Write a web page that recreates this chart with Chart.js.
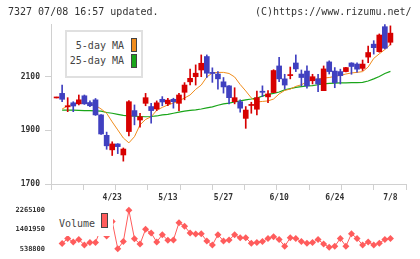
<!DOCTYPE html>
<html>
<head>
<meta charset="utf-8">
<script src="https://cdn.jsdelivr.net/npm/chart.js@4.4.1/dist/chart.umd.min.js"></script>
<style>
  body { margin: 0; background: #fff; }
  #wrap { position: relative; width: 420px; height: 259px; overflow: hidden;
          font-family: "DejaVu Sans Mono", monospace; color: #333; }
  canvas { position: absolute; left: 0; }
  #priceCanvas { top: 0; }
  #volCanvas { top: 200px; }
  .txt { position: absolute; font-size: 10px; line-height: 10px; white-space: pre; }
  .box { position: absolute; box-sizing: border-box; border: 1px solid #444; }
</style>
</head>
<body>
<div id="wrap">
  <canvas id="priceCanvas" width="420" height="205"></canvas>
  <canvas id="volCanvas" width="420" height="59"></canvas>

  <div class="txt" style="left:8px; top:6.5px;">7327 07/08 16:57 updated.</div>
  <div class="txt" style="left:255px; top:6.5px;">(C)https://www.rizumu.net/</div>

  <!-- moving average legend -->
  <div style="position:absolute; left:65px; top:30px; width:78px; height:48px; box-sizing:border-box;
              border:2px solid #e0e0e0; background:#fff;"></div>
  <div class="txt" style="right:296px; top:40.8px; color:#444;">5-day MA</div>
  <div class="txt" style="right:296px; top:55.8px; color:#444;">25-day MA</div>
  <div class="box" style="left:131px; top:38px; width:6px; height:14px; background:#f08c1c;"></div>
  <div class="box" style="left:131px; top:54px; width:6px; height:14px; background:#1aa51a;"></div>

  <!-- volume legend -->
  <div style="position:absolute; left:55px; top:205px; width:58px; height:31px; background:#fff;"></div>
  <div class="txt" style="left:59px; top:218.5px; color:#444;">Volume</div>
  <div class="box" style="left:101px; top:213px; width:7px; height:15px; background:#ff5c5c;"></div>
</div>

<script>
// trading days shown on the chart
var dates = ['4/9','4/10','4/11','4/12','4/15','4/16','4/17','4/18','4/19','4/22',
             '4/23','4/24','4/25','4/26','5/1','5/2','5/7','5/8','5/9','5/10',
             '5/13','5/14','5/15','5/16','5/17','5/20','5/21','5/22','5/23','5/24',
             '5/27','5/28','5/29','5/30','5/31','6/3','6/4','6/5','6/6','6/7',
             '6/10','6/11','6/12','6/13','6/14','6/17','6/18','6/19','6/20','6/21',
             '6/24','6/25','6/26','6/27','6/28','7/1','7/2','7/3','7/4','7/5','7/8'];
var tickDates = ['4/23','5/13','5/27','6/10','6/24','7/8'];
var priceTicks = [1700, 1900, 2100];
var volumeTicks = [538800, 1401950, 2265100];

var opens  = [2020,2037,1987,2002,1998,2028,2003,2013,1957,1881,
              1827,1849,1808,1895,1973,1938,2000,1988,1979,2015,
              1998,2015,2000,2041,2080,2099,2124,2174,2115,2109,
              2080,2065,2006,2006,1944,1992,1978,2045,2024,2040,
              2139,2091,2103,2150,2109,2120,2084,2091,2047,2154,
              2120,2118,2118,2150,2146,2130,2172,2220,2192,2285,2227];
var closes = [2023,2015,1991,1990,2013,1998,1991,1957,1886,1842,
              1849,1839,1830,2006,1953,1950,2021,1973,2002,2005,
              2012,2006,2031,2068,2093,2112,2149,2112,2111,2091,
              2061,2021,2021,1982,1975,1996,2021,2041,2035,2122,
              2091,2068,2107,2128,2096,2065,2099,2072,2128,2118,
              2077,2103,2133,2137,2127,2146,2189,2207,2254,2205,2261];
var highs  = [2023,2068,2021,2006,2031,2031,2009,2018,1958,1893,
              1857,1850,1834,2010,1994,1963,2037,2000,2009,2025,
              2019,2019,2037,2077,2127,2143,2180,2180,2132,2118,
              2096,2066,2058,2013,1988,2004,2046,2065,2047,2125,
              2171,2108,2135,2180,2124,2139,2108,2108,2139,2158,
              2133,2127,2134,2151,2151,2161,2213,2233,2258,2293,2288];
var lows   = [2020,2006,1969,1969,1994,1996,1988,1955,1884,1829,
              1806,1813,1785,1879,1920,1911,1991,1926,1973,1991,
              1991,1982,1973,2013,2068,2068,2099,2096,2078,2053,
              2038,1998,1998,1967,1907,1963,1957,2025,2002,2040,
              2081,2053,2091,2118,2065,2056,2072,2043,2047,2109,
              2058,2072,2117,2108,2116,2122,2151,2183,2190,2202,2217];

var ma5  = [null,1979,1990,1998,2000,2001,1998,1992,1979,1963,
            1931,1901,1871,1853,1876,1920,1940,1950,1974,1985,
            1994,2001,2009,2020,2031,2052,2068,2098,2113,2115,
            2115,2111,2098,2070,2046,2020,2005,2007,2009,2016,
            2035,2048,2053,2063,2069,2080,2087,2091,2094,2096,
            2100,2104,2109,2113,2115,2118,2135,2167,2184,2200,2219];
var ma25 = [null,1975,1975,1975,1974,1973,1973,1972,1971,1966,
            1963,1959,1955,1953,1952,1951,1950,1951,1953,1957,
            1959,1963,1967,1971,1974,1976,1979,1983,1987,1993,
            1998,2001,2005,2009,2013,2016,2020,2027,2033,2037,
            2042,2050,2055,2059,2062,2065,2066,2069,2072,2074,
            2075,2076,2076,2077,2077,2078,2083,2091,2100,2111,2119];

var volumes = [null,780000,1000000,846000,960000,707000,821000,821000,1465000,1107000,
               1760000,538800,863000,2265100,990000,749000,1411000,1242000,846000,1170000,
               918000,931000,1705000,1549000,1242000,1200000,1213000,888000,707000,1170000,
               888000,931000,1170000,1031000,1031000,791000,821000,863000,1002000,1073000,
               960000,652000,1031000,1002000,863000,791000,821000,960000,749000,611000,
               652000,1002000,652000,1213000,1002000,707000,846000,707000,791000,960000,1002000];

var upColor = '#d70000';
var downColor = '#4040c0';
var ma5Color = '#f08c1c';
var ma25Color = '#1aa51a';
var volColor = '#ff5c5c';
var axisColor = '#d0d0d0';
var monoFont = 'DejaVu Sans Mono';

var xMin = -1, xMax = 62.8;

function toPoints(arr) {
    var out = [];
    arr.forEach(function(v, i) { if (v !== null) out.push({x: i, y: v}); });
    return out;
}

var candleColors = opens.map(function(o, i) { return closes[i] >= o ? upColor : downColor; });

new Chart(document.getElementById('priceCanvas'), {
    type: 'bar',
    data: {
        datasets: [{
            label: 'body',
            xAxisID: 'x', yAxisID: 'y',
            data: opens.map(function(o, i) { return {x: i, y: [o, closes[i]]}; }),
            backgroundColor: candleColors,
            barThickness: 5,
            minBarLength: 1,
            grouped: false,
            order: 1
        }, {
            label: 'wick',
            xAxisID: 'x', yAxisID: 'y',
            data: lows.map(function(l, i) { return {x: i, y: [l, highs[i]]}; }),
            backgroundColor: candleColors,
            barThickness: 1,
            grouped: false,
            order: 2
        }, {
            type: 'line',
            label: '5-day MA',
            xAxisID: 'x', yAxisID: 'y',
            data: toPoints(ma5),
            borderColor: ma5Color,
            borderWidth: 1,
            pointRadius: 0,
            order: 3
        }, {
            type: 'line',
            label: '25-day MA',
            xAxisID: 'x', yAxisID: 'y',
            data: toPoints(ma25),
            borderColor: ma25Color,
            borderWidth: 1.2,
            pointRadius: 0,
            order: 4
        }]
    },
    options: {
        responsive: false,
        animation: false,
        devicePixelRatio: 1,
        layout: { padding: { top: 24, right: 14, left: 0, bottom: 0 } },
        plugins: { legend: { display: false }, tooltip: { enabled: false } },
        scales: {
            x: {
                type: 'linear',
                position: 'bottom',
                weight: 1,
                min: xMin,
                max: xMax,
                offset: false,
                afterBuildTicks: function(scale) {
                    scale.ticks = tickDates.map(function(d) { return {value: dates.indexOf(d)}; });
                },
                afterFit: function(scale) { scale.height = 15; },
                grid: { display: false, drawTicks: false, offset: false },
                border: { display: false },
                ticks: {
                    autoSkip: false,
                    maxRotation: 0,
                    padding: 3,
                    color: '#333',
                    font: { family: monoFont, size: 8, weight: 'bold' },
                    callback: function(v) { return dates[v]; }
                }
            },
            y: {
                type: 'linear',
                min: 1700,
                max: 2295,
                afterBuildTicks: function(scale) {
                    scale.ticks = priceTicks.map(function(v) { return {value: v}; });
                },
                afterFit: function(scale) { scale.width = 51; },
                grid: { drawOnChartArea: false, tickLength: 6, color: axisColor },
                border: { color: axisColor },
                ticks: {
                    padding: 5, color: '#333', font: { family: monoFont, size: 8, weight: 'bold' },
                    callback: function(v) { return String(v); }
                }
            },
            xt: {
                type: 'linear',
                position: 'bottom',
                weight: 0,
                min: 0,
                max: 11,
                offset: false,
                afterFit: function(scale) { scale.height = 6; },
                grid: { drawOnChartArea: false, tickLength: 6, color: axisColor, offset: false },
                border: { color: axisColor },
                ticks: { stepSize: 1, display: false }
            }
        }
    }
});

new Chart(document.getElementById('volCanvas'), {
    type: 'line',
    data: {
        datasets: [{
            label: 'Volume',
            data: toPoints(volumes),
            borderColor: volColor,
            backgroundColor: volColor,
            borderWidth: 1,
            pointStyle: 'rectRot',
            pointRadius: 3.5,
            pointBorderWidth: 0,
            clip: false
        }]
    },
    options: {
        responsive: false,
        animation: false,
        devicePixelRatio: 1,
        layout: { padding: { top: 9, right: 14, left: 0, bottom: 9 } },
        plugins: { legend: { display: false }, tooltip: { enabled: false } },
        scales: {
            x: { type: 'linear', min: xMin, max: xMax, display: false },
            y: {
                type: 'linear',
                min: volumeTicks[0],
                max: volumeTicks[2],
                afterBuildTicks: function(scale) {
                    scale.ticks = volumeTicks.map(function(v) { return {value: v}; });
                },
                afterFit: function(scale) { scale.width = 51; },
                grid: { display: false, drawTicks: false },
                border: { display: false },
                ticks: {
                    padding: 6, color: '#333', font: { family: monoFont, size: 7, weight: 'bold' },
                    callback: function(v) { return String(v); }
                }
            }
        }
    }
});
</script>
</body>
</html>
